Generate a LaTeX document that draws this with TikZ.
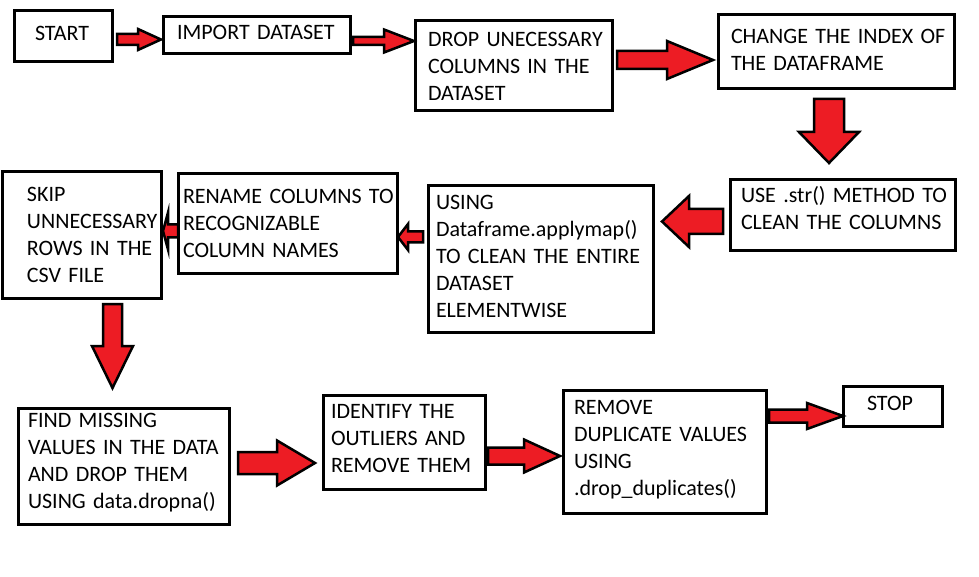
\documentclass[tikz,border=0pt]{standalone}
\usepackage{fontspec}
\setmainfont{Carlito}
\usepackage{tikz}
\usetikzlibrary{calc}
\definecolor{paintred}{HTML}{ED1C24}
\tikzstyle{box} = [rectangle, draw=black, line width=3pt, anchor=north west, outer sep=0pt, inner ysep=0pt, align=left, font=\fontsize{22}{27}\selectfont, execute at begin node={\hyphenpenalty=10000}]
% block arrow: shaft half width, head half width, head length
\tikzset{blockarrow/.style n args={3}{draw=black, fill=paintred, line width=2.5pt, to path={
  ($(\tikztostart)!#1pt!90:(\tikztotarget)$)
  -- ($(\tikztotarget)!#3pt!(\tikztostart)!#1pt!-90:(\tikztostart)$)
  -- ($(\tikztotarget)!#3pt!(\tikztostart)!#2pt!-90:(\tikztostart)$)
  -- (\tikztotarget)
  -- ($(\tikztotarget)!#3pt!(\tikztostart)!#2pt!90:(\tikztostart)$)
  -- ($(\tikztotarget)!#3pt!(\tikztostart)!#1pt!90:(\tikztostart)$)
  -- ($(\tikztostart)!#1pt!-90:(\tikztotarget)$)
  -- cycle}}}

\begin{document}
\begin{tikzpicture}[x=1pt, y=-1pt]
		\useasboundingbox (0,0) rectangle (979,577);
		% Arrow ends
		\coordinate (startout) at (117,39.5);
		\coordinate (importin) at (161,39.5);
		\coordinate (importout) at (353,41);
		\coordinate (dropin) at (414,41);
		\coordinate (dropout) at (617,60);
		\coordinate (changein) at (713,60);
		\coordinate (changeout) at (829,99);
		\coordinate (usestrin) at (829,163);
		\coordinate (usestrout) at (723,221.5);
		\coordinate (applymapin) at (662,221.5);
		\coordinate (applymapout) at (423,237);
		\coordinate (renamein) at (398,237);
		\coordinate (renameout) at (178,231);
		\coordinate (skipin) at (163,231);
		\coordinate (skipout) at (112.5,304);
		\coordinate (findin) at (112.5,388);
		\coordinate (findout) at (238,463);
		\coordinate (identifyin) at (315,463);
		\coordinate (identifyout) at (488,456);
		\coordinate (removein) at (560,456);
		\coordinate (removeout) at (769,416);
		\coordinate (stopin) at (843,416);
		% Top row
		\node[box, minimum width=98pt, minimum height=51pt, inner xsep=21pt, text width=56pt] (start) at (14,11) {START\vspace{6pt}};
		\node[box, minimum width=187pt, minimum height=37pt, inner xsep=14pt, text width=159pt] (import) at (163,17) {IMPORT~DATASET\vspace{6pt}};
		\node[box, minimum width=197pt, minimum height=90pt, inner xsep=13pt, text width=171pt] (drop) at (415,21) {DROP~UNECESSARY\\COLUMNS~IN~THE\\DATASET};
		\node[box, minimum width=236pt, minimum height=74pt, inner xsep=13pt, text width=210pt] (change) at (718,15) {CHANGE~THE~INDEX~OF\\THE~DATAFRAME\vspace{4pt}};
		% Middle row
		\node[box, minimum width=225pt, minimum height=71pt, inner xsep=11pt, text width=203pt] (usestr) at (730,180) {USE~.str()~METHOD~TO\\CLEAN~THE~COLUMNS\vspace{14pt}};
		\node[box, minimum width=225pt, minimum height=146pt, inner xsep=8pt, text width=209pt] (applymap) at (428,186) {USING\\Dataframe.applymap()\\TO~CLEAN~THE~ENTIRE\\DATASET\\ELEMENTWISE\vspace{6pt}};
		\node[box, minimum width=219pt, minimum height=99pt, inner xsep=5pt, text width=209pt] (rename) at (178,174) {RENAME~COLUMNS~TO\\RECOGNIZABLE\\COLUMN~NAMES};
		\node[box, minimum width=159pt, minimum height=126pt, inner xsep=25pt, text width=109pt] (skip) at (2,172) {SKIP\\UNNECESSARY\\ROWS~IN~THE\\CSV~FILE};
		% Bottom row
		\node[box, minimum width=211pt, minimum height=116pt, inner xsep=10pt, text width=191pt] (find) at (18,408) {FIND~MISSING\\VALUES~IN~THE~DATA\\AND~DROP~THEM\\USING~data.dropna()\vspace{6pt}};
		\node[box, minimum width=162pt, minimum height=94pt, inner xsep=8pt, text width=146pt] (identify) at (323,395) {IDENTIFY~THE\\OUTLIERS~AND\\REMOVE~THEM\vspace{6pt}};
		\node[box, minimum width=203pt, minimum height=123pt, inner xsep=11pt, text width=181pt] (remove) at (563,390) {REMOVE\\DUPLICATE~VALUES\\USING\\.drop\_duplicates()\vspace{4pt}};
		\node[box, minimum width=99pt, minimum height=40pt, inner xsep=24pt, text width=51pt] (stop) at (843,386) {STOP\vspace{6pt}};
		% Arrows
		\draw[blockarrow={5.5}{10.5}{23}] (startout) to (importin);
		\draw[blockarrow={4}{11.5}{30}] (importout) to (dropin);
		\draw[blockarrow={9}{19}{46}] (dropout) to (changein);
		\draw[blockarrow={15}{30}{31}] (changeout) to (usestrin);
		\draw[blockarrow={12.5}{25.5}{27}] (usestrout) to (applymapin);
		\draw[blockarrow={5.5}{13}{10}] (applymapout) to (renamein);
		\draw[blockarrow={6.5}{18.5}{5}] (renameout) to (skipin);
		\draw[blockarrow={9.5}{20.5}{42}] (skipout) to (findin);
		\draw[blockarrow={11}{22.5}{38}] (findout) to (identifyin);
		\draw[blockarrow={8.5}{16.5}{36}] (identifyout) to (removein);
		\draw[blockarrow={6.5}{13}{36}] (removeout) to (stopin);
\end{tikzpicture}
\end{document}
